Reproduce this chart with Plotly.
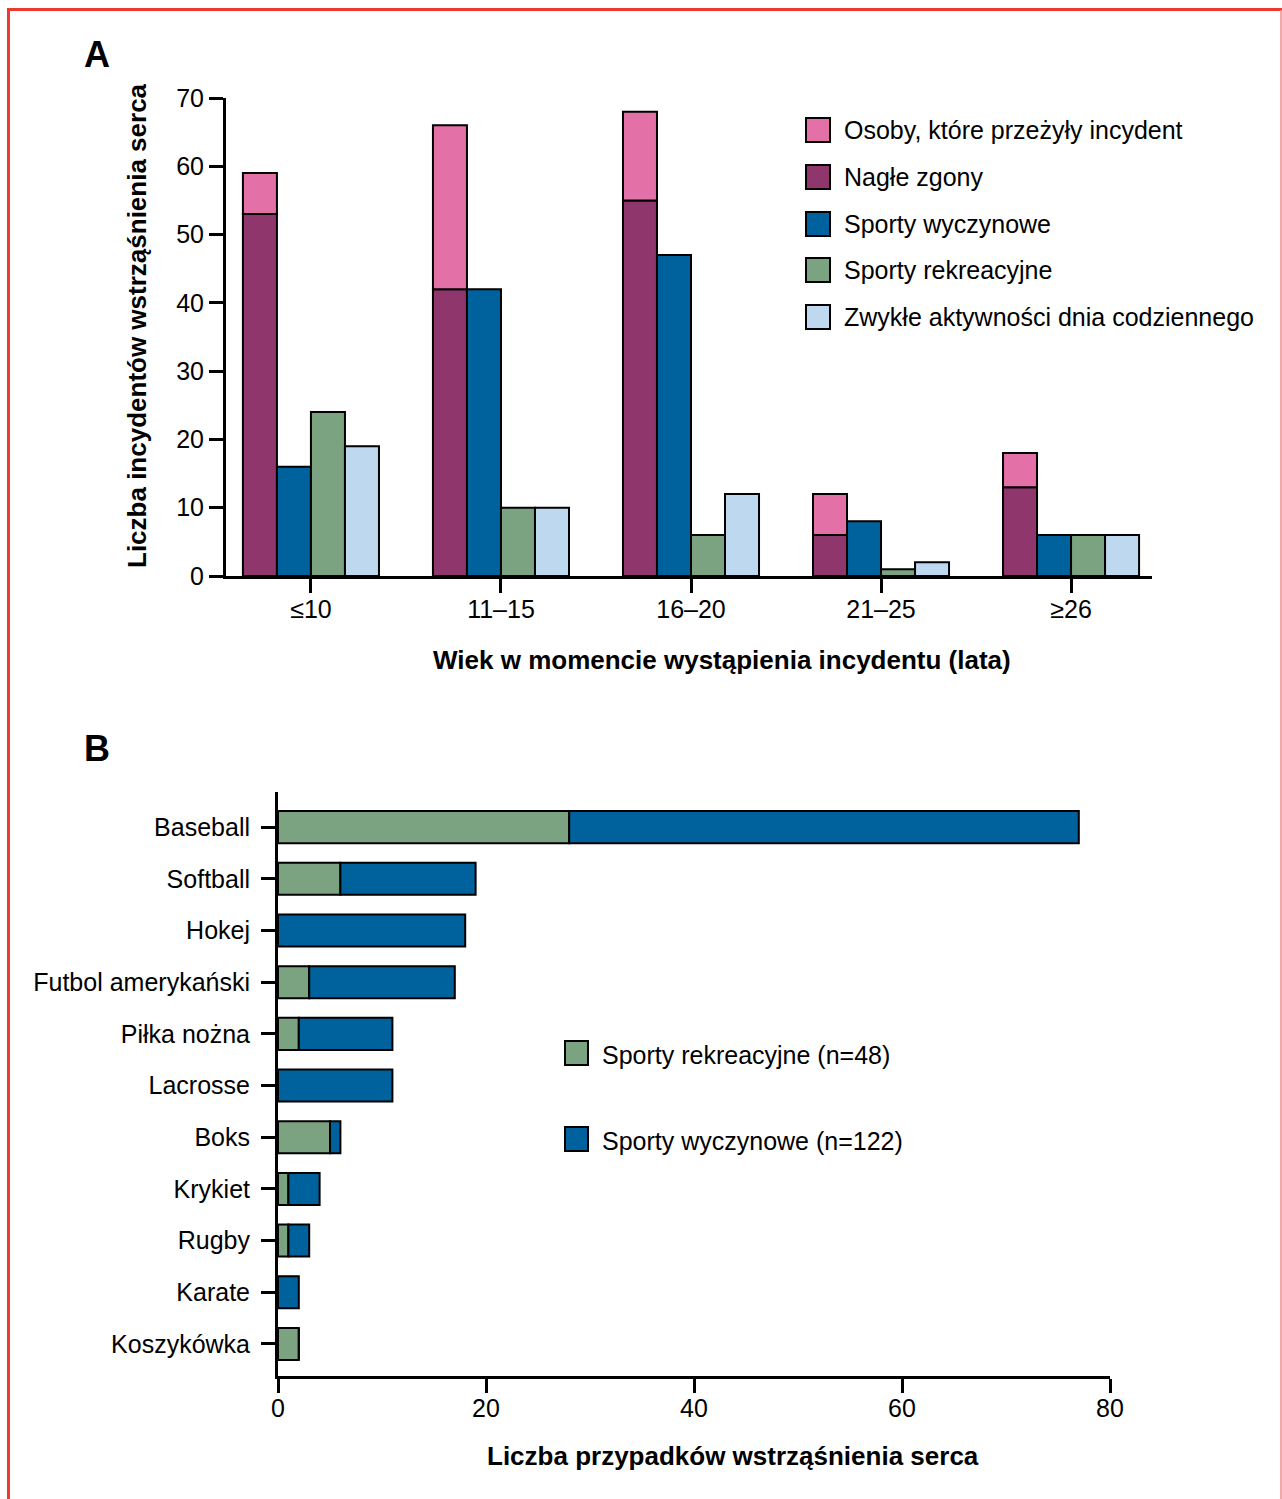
import plotly.graph_objects as go

# ---------------- data ----------------
age_groups = ["≤10", "11–15", "16–20", "21–25", "≥26"]
sudden_deaths = [53, 42, 55, 6, 13]
survivors = [6, 24, 13, 6, 5]
competitive = [16, 42, 47, 8, 6]
recreational = [24, 10, 6, 1, 6]
daily_activities = [19, 10, 12, 2, 6]

sports = ["Baseball", "Softball", "Hokej", "Futbol amerykański", "Piłka nożna",
          "Lacrosse", "Boks", "Krykiet", "Rugby", "Karate", "Koszykówka"]
sport_recreational = [28, 6, 0, 3, 2, 0, 5, 1, 1, 0, 2]
sport_competitive = [49, 13, 18, 14, 9, 11, 1, 3, 2, 2, 0]

legend_a_names = ["Osoby, które przeżyły incydent", "Nagłe zgony", "Sporty wyczynowe",
                  "Sporty rekreacyjne", "Zwykłe aktywności dnia codziennego"]
legend_b_names = ["Sporty rekreacyjne (n=48)", "Sporty wyczynowe (n=122)"]

# ---------------- style ----------------
C_PINK = "#E470A8"
C_PURPLE = "#8F366D"
C_BLUE = "#00629D"
C_GREEN = "#7BA381"
C_LIGHT = "#BDD8EF"
FONT = "Liberation Sans, Arial, sans-serif"
FS = 25
W, H = 1282, 1499


def px(x):
    return x / W


def py(y):
    return 1 - y / H


line = dict(color="black", width=2)

fig = go.Figure()

# Panel A
fig.add_trace(go.Bar(x=age_groups, y=sudden_deaths, name=legend_a_names[1], marker=dict(color=C_PURPLE, line=line),
                     offsetgroup="g1", xaxis="x", yaxis="y", showlegend=False))
fig.add_trace(go.Bar(x=age_groups, y=survivors, base=sudden_deaths, name=legend_a_names[0],
                     marker=dict(color=C_PINK, line=line), offsetgroup="g1", xaxis="x", yaxis="y", showlegend=False))
fig.add_trace(go.Bar(x=age_groups, y=competitive, name=legend_a_names[2], marker=dict(color=C_BLUE, line=line),
                     offsetgroup="g2", xaxis="x", yaxis="y", showlegend=False))
fig.add_trace(go.Bar(x=age_groups, y=recreational, name=legend_a_names[3], marker=dict(color=C_GREEN, line=line),
                     offsetgroup="g3", xaxis="x", yaxis="y", showlegend=False))
fig.add_trace(go.Bar(x=age_groups, y=daily_activities, name=legend_a_names[4], marker=dict(color=C_LIGHT, line=line),
                     offsetgroup="g4", xaxis="x", yaxis="y", showlegend=False))

# Panel B
fig.add_trace(go.Bar(y=sports, x=sport_recreational, orientation="h", name=legend_b_names[0],
                     marker=dict(color=C_GREEN, line=line), offsetgroup="h1", width=0.62, offset=-0.31,
                     xaxis="x2", yaxis="y2", showlegend=False))
fig.add_trace(go.Bar(y=sports, x=sport_competitive, base=sport_recreational, orientation="h", name=legend_b_names[1],
                     marker=dict(color=C_BLUE, line=line), offsetgroup="h1", width=0.62, offset=-0.31,
                     xaxis="x2", yaxis="y2", showlegend=False))

tickfont = dict(family=FONT, size=FS, color="black")
axis_common = dict(showline=True, linewidth=3, linecolor="black", ticks="outside", ticklen=14,
                   tickwidth=3, tickcolor="black", showgrid=False, zeroline=False, tickfont=tickfont,
                   automargin=False)

fig.update_layout(
    width=W, height=H, margin=dict(l=0, r=0, t=0, b=0),
    paper_bgcolor="white", plot_bgcolor="white",
    barmode="group", bargap=0.284, bargroupgap=0,
    font=dict(family=FONT, size=FS, color="black"),
    xaxis=dict(domain=[px(226), px(1152)], range=[-0.447, 4.426], anchor="y", ticklabelstandoff=-5,
               **axis_common),
    yaxis=dict(domain=[py(576), py(98)], range=[0, 70], tickvals=list(range(0, 71, 10)), anchor="x",
               **axis_common),
    xaxis2=dict(domain=[px(278), px(1110)], range=[0, 80], tickvals=list(range(0, 81, 20)), anchor="y2",
                ticklabelstandoff=-6, **axis_common),
    yaxis2=dict(domain=[py(1376), py(792)], range=[10.62, -0.68], anchor="x2", ticklabelstandoff=6,
                **axis_common),
    showlegend=False,
)

annotations = []
shapes = []


def ann(text, x, y, size=FS, bold=False, xanchor="center", angle=0):
    annotations.append(dict(text=text, x=px(x), y=py(y), xref="paper", yref="paper", showarrow=False,
                            xanchor=xanchor, yanchor="middle", textangle=angle,
                            font=dict(family=FONT, size=size, color="black",
                                      weight="bold" if bold else "normal")))


ann("A", 97, 55, size=36, bold=True)
ann("B", 97, 748, size=36, bold=True)
ann("Wiek w momencie wystąpienia incydentu (lata)", 722, 660, size=26, bold=True)
ann("Liczba incydentów wstrząśnienia serca", 137, 326, size=26, bold=True, angle=-90)
ann("Liczba przypadków wstrząśnienia serca", 733, 1456, size=26, bold=True)

# legend A (manual, larger swatches)
legend_a_colors = [C_PINK, C_PURPLE, C_BLUE, C_GREEN, C_LIGHT]
legend_a_y = [130, 177, 224, 270, 317]
for name, col, yy in zip(legend_a_names, legend_a_colors, legend_a_y):
    shapes.append(dict(type="rect", xref="paper", yref="paper", x0=px(806), x1=px(830), y0=py(yy - 12),
                       y1=py(yy + 12), fillcolor=col, line=dict(color="black", width=2)))
    ann(name, 842, yy, xanchor="left")

# legend B
legend_b_colors = [C_GREEN, C_BLUE]
legend_b_y = [1053, 1139]
for name, col, yy in zip(legend_b_names, legend_b_colors, legend_b_y):
    shapes.append(dict(type="rect", xref="paper", yref="paper", x0=px(565), x1=px(588), y0=py(yy - 12),
                       y1=py(yy + 12), fillcolor=col, line=dict(color="black", width=2)))
    ann(name, 600, yy + 2, xanchor="left")

# red frame
shapes.append(dict(type="line", xref="paper", yref="paper", x0=px(7), x1=px(1282), y0=py(9.5), y1=py(9.5),
                   line=dict(color="#EE3A2E", width=3)))
shapes.append(dict(type="line", xref="paper", yref="paper", x0=px(8.5), x1=px(8.5), y0=py(8), y1=py(1499),
                   line=dict(color="#EE3A2E", width=3)))
shapes.append(dict(type="line", xref="paper", yref="paper", x0=px(1281), x1=px(1281), y0=py(10), y1=py(1499),
                   line=dict(color="#F08A8A", width=1.5)))

fig.update_layout(annotations=annotations, shapes=shapes)

fig.write_html("out.html")
